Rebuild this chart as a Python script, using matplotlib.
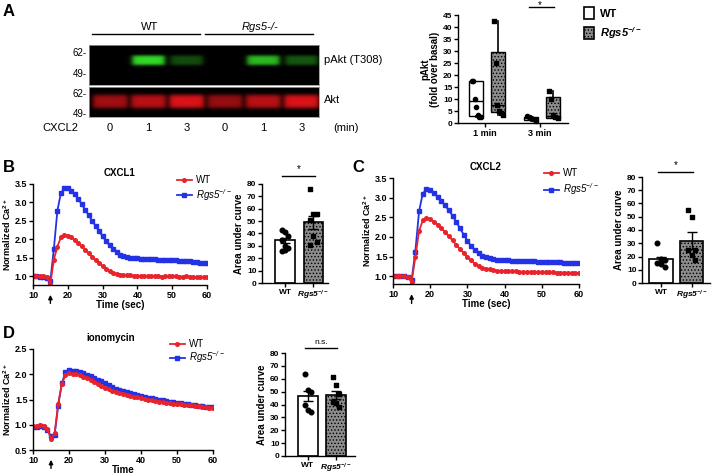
import numpy as np
import matplotlib
matplotlib.use("Agg")
import matplotlib.pyplot as plt
from matplotlib.patches import Patch

plt.rcParams["font.family"] = ["Liberation Sans", "DejaVu Sans"]
plt.rcParams["font.weight"] = "bold"
plt.rcParams["axes.labelweight"] = "bold"
plt.rcParams["mathtext.default"] = "regular"
plt.rcParams["hatch.linewidth"] = 0.6

W, H = 713, 474
RED = "#e8232b"
BLUE = "#2432e6"
GRAY = "#8c8c8c"

# ---- data ----
lane_labels = ["0", "1", "3", "0", "1", "3"]
pakt_signal = [0.0, 1.0, 0.35, 0.0, 0.85, 0.4]
akt_signal = [0.7, 0.8, 0.95, 0.65, 0.8, 0.95]

box_groups = ["1 min", "3 min"]
# min, q1, median, q3, max
wt_box = [(2.5, 3.0, 9.0, 17.5, 17.5), (1.0, 1.2, 2.0, 2.5, 3.0)]
rgs_box = [(3.5, 4.5, 7.7, 29.5, 42.5), (2.0, 2.2, 3.0, 11.0, 13.5)]
wt_box_pts = [[17.5, 17.5, 10.0, 6.5, 3.5, 2.5, 2.5], [3.0, 2.5, 2.0, 1.5, 1.0]]
rgs_box_pts = [[42.5, 25.0, 7.5, 5.0, 4.0, 3.5], [13.5, 10.0, 3.5, 2.5, 2.0]]

time = list(range(10, 61))

cxcl1_wt = [1.00, 1.00, 1.00, 1.00, 0.98, 0.80, 1.45, 1.80, 2.05, 2.12,
            2.10, 2.05, 1.98, 1.90, 1.81, 1.72, 1.62, 1.53, 1.44, 1.35,
            1.27, 1.20, 1.14, 1.09, 1.06, 1.04, 1.03, 1.02, 1.02, 1.01,
            1.01, 1.00, 1.01, 1.00, 1.00, 1.01, 1.00, 0.99, 1.00, 1.00,
            1.00, 1.00, 0.99, 0.99, 1.00, 0.99, 0.98, 0.98, 0.98, 0.98, 0.97]
cxcl1_rgs = [1.00, 1.00, 0.99, 0.99, 0.96, 0.88, 1.75, 2.77, 3.25, 3.38,
             3.38, 3.32, 3.22, 3.10, 2.95, 2.80, 2.65, 2.50, 2.36, 2.22,
             2.08, 1.95, 1.84, 1.74, 1.65, 1.58, 1.54, 1.51, 1.50, 1.49,
             1.48, 1.47, 1.47, 1.47, 1.46, 1.46, 1.45, 1.45, 1.44, 1.44,
             1.44, 1.43, 1.42, 1.41, 1.40, 1.40, 1.39, 1.38, 1.37, 1.36, 1.36]

cxcl2_wt = [1.00, 1.00, 1.00, 1.00, 0.99, 0.85, 1.48, 2.15, 2.42, 2.48,
            2.45, 2.39, 2.31, 2.22, 2.12, 2.02, 1.91, 1.80, 1.69, 1.59,
            1.49, 1.40, 1.32, 1.26, 1.22, 1.19, 1.17, 1.15, 1.14, 1.13,
            1.13, 1.12, 1.12, 1.12, 1.11, 1.11, 1.11, 1.11, 1.11, 1.10,
            1.10, 1.10, 1.10, 1.10, 1.09, 1.09, 1.09, 1.09, 1.08, 1.08, 1.08]
cxcl2_rgs = [1.00, 1.00, 1.00, 1.00, 0.99, 0.90, 1.62, 2.65, 3.10, 3.22,
             3.20, 3.12, 3.02, 2.92, 2.80, 2.68, 2.54, 2.38, 2.22, 2.06,
             1.90, 1.77, 1.66, 1.58, 1.52, 1.48, 1.45, 1.43, 1.42, 1.41,
             1.40, 1.40, 1.39, 1.39, 1.39, 1.38, 1.38, 1.38, 1.38, 1.37,
             1.37, 1.37, 1.36, 1.36, 1.35, 1.35, 1.34, 1.34, 1.33, 1.33, 1.33]

iono_wt = [0.98, 0.98, 0.99, 0.98, 0.92, 0.72, 0.83, 1.42, 1.80, 1.98,
           2.02, 2.01, 2.00, 1.98, 1.95, 1.92, 1.88, 1.84, 1.80, 1.77,
           1.73, 1.70, 1.67, 1.65, 1.63, 1.61, 1.59, 1.57, 1.55, 1.54,
           1.53, 1.51, 1.50, 1.49, 1.47, 1.46, 1.45, 1.44, 1.43, 1.42,
           1.41, 1.41, 1.40, 1.39, 1.39, 1.38, 1.37, 1.36, 1.35, 1.34, 1.33]
iono_rgs = [0.96, 0.96, 0.97, 0.96, 0.89, 0.78, 0.80, 1.38, 1.82, 2.04,
            2.08, 2.07, 2.06, 2.05, 2.03, 1.99, 1.96, 1.92, 1.89, 1.86,
            1.82, 1.78, 1.74, 1.71, 1.68, 1.66, 1.65, 1.63, 1.61, 1.59,
            1.57, 1.55, 1.53, 1.52, 1.51, 1.50, 1.49, 1.47, 1.46, 1.45,
            1.44, 1.43, 1.42, 1.41, 1.40, 1.39, 1.38, 1.37, 1.36, 1.36, 1.35]

# area under curve: mean, sem, points
auc_groups = ["WT", "Rgs5$^{-/-}$"]
cxcl1_mean = [34.5, 49.0]
cxcl1_sem = [2.0, 5.5]
cxcl1_wt_pts = [43, 41, 38, 35, 30, 28, 26, 27]
cxcl1_rgs_pts = [76, 56, 56, 51, 38, 33, 31]
cxcl2_mean = [18.0, 32.0]
cxcl2_sem = [2.0, 6.5]
cxcl2_wt_pts = [30, 18, 17, 15, 14, 12]
cxcl2_rgs_pts = [55, 50, 25, 25, 21, 17]
iono_mean = [46.8, 47.4]
iono_sem = [4.0, 3.2]
iono_wt_pts = [64, 51, 50, 40, 36, 34]
iono_rgs_pts = [61, 55, 48, 42, 41, 38]


def px(l, t, r, b):
    return [l / W, 1 - b / H, (r - l) / W, (b - t) / H]


def prism(ax, size=6.5):
    for s in ["top", "right"]:
        ax.spines[s].set_visible(False)
    for s in ["left", "bottom"]:
        ax.spines[s].set_linewidth(1.0)
    ax.tick_params(width=1.0, length=3, labelsize=size, pad=1)


fig = plt.figure(figsize=(W / 100, H / 100), dpi=100)

# ---- A: western blot ----
def band_image(signal, color, yc, hh, halfw):
    xs = np.linspace(0, 6, 460)
    ys = np.linspace(0, 1, 80)
    X, Y = np.meshgrid(xs, ys)
    img = np.zeros(X.shape)
    for i, s in enumerate(signal):
        fx = 1 / (1 + np.exp((np.abs(X - (i + 0.55)) - halfw) / 0.04))
        fy = np.exp(-((Y - yc) / hh) ** 4)
        img += s * fx * fy
    return np.clip(img, 0, 1)[..., None] * np.array(color)


ax_top = fig.add_axes(px(89, 45, 319, 85))
ax_top.imshow(band_image(pakt_signal, (0.2, 0.85, 0.15), 0.62, 0.13, 0.42),
              extent=(0, 6, 0, 1), origin="lower", aspect="auto")
ax_bot = fig.add_axes(px(89, 87, 319, 117))
ax_bot.imshow(band_image(akt_signal, (0.9, 0.08, 0.1), 0.52, 0.24, 0.45),
              extent=(0, 6, 0, 1), origin="lower", aspect="auto")
for a in (ax_top, ax_bot):
    a.set_xticks([])
    a.set_yticks([])
    for s in a.spines.values():
        s.set_color("#999999")
        s.set_linewidth(0.6)
for i, lab in enumerate(lane_labels):
    ax_bot.text(i + 0.55, -0.38, lab, ha="center", va="center", fontsize=8,
                fontweight="normal", transform=ax_bot.get_xaxis_transform())

blot_txt = dict(fontsize=8, fontweight="normal")
fig.text(78 / W, 1 - 128 / H, "CXCL2", ha="right", va="center", **blot_txt)
fig.text(333 / W, 1 - 128 / H, "(min)", ha="left", va="center", **blot_txt)
fig.text(324 / W, 1 - 60 / H, "pAkt (T308)", ha="left", va="center", **blot_txt)
fig.text(324 / W, 1 - 100 / H, "Akt", ha="left", va="center", **blot_txt)
for y, t in [(53, "62-"), (74, "49-"), (94, "62-"), (114, "49-")]:
    fig.text(87 / W, 1 - y / H, t, ha="right", va="center", fontsize=7, fontweight="normal")
fig.text(150 / W, 1 - 27 / H, "WT", ha="center", va="center", **blot_txt)
fig.text(260 / W, 1 - 27 / H, "Rgs5-/-", ha="center", va="center", style="italic", **blot_txt)
fig.add_artist(plt.Line2D([92 / W, 200 / W], [1 - 34 / H] * 2, color="black", lw=1))
fig.add_artist(plt.Line2D([205 / W, 313 / W], [1 - 34 / H] * 2, color="black", lw=1))

# ---- A: box plot ----
axA = fig.add_axes(px(458, 15, 568, 123))
prism(axA, 6)
offsets = [-0.16, 0.24]
for k, (boxes, pts, face, mk) in enumerate([(wt_box, wt_box_pts, "white", "o"),
                                            (rgs_box, rgs_box_pts, GRAY, "s")]):
    stats = [dict(whislo=b[0], q1=b[1], med=b[2], q3=b[3], whishi=b[4], fliers=[])
             for b in boxes]
    pos = [g + offsets[k] for g in range(len(box_groups))]
    axA.bxp(stats, positions=pos, widths=0.26, patch_artist=True, showcaps=False,
            boxprops=dict(facecolor=face, edgecolor="black", lw=1,
                          hatch="....." if k else None),
            medianprops=dict(color="black", lw=1),
            whiskerprops=dict(color="black", lw=1.2))
    for p, vals in zip(pos, pts):
        jit = np.linspace(-0.08, 0.08, len(vals))
        axA.scatter(p + jit, vals, s=9, marker=mk, color="black", zorder=5, clip_on=False)
axA.set_xlim(-0.49, 1.51)
axA.set_ylim(0, 45)
axA.set_yticks(range(0, 46, 5))
axA.set_xticks(range(len(box_groups)))
axA.set_xticklabels(box_groups, fontsize=6.5)
axA.set_ylabel("pAkt\n(fold over basal)", fontsize=7, labelpad=2, linespacing=1.0)
axA.plot([0.8, 1.25], [48.5, 48.5], color="black", lw=1, clip_on=False)
fig.text(540 / W, 1 - 0.5 / H, "*", ha="center", va="top", fontsize=7, fontweight="normal")

fig.legend(handles=[Patch(facecolor="white", edgecolor="black", lw=1.2),
                    Patch(facecolor=GRAY, edgecolor="black", lw=1.2, hatch=".....")],
           labels=["WT", "Rgs5$^{-/-}$"], loc="upper left",
           bbox_to_anchor=(584 / W, 1 - 7 / H), frameon=False, fontsize=8,
           handlelength=0.9, handleheight=1.3, handletextpad=0.5, labelspacing=0.55,
           borderpad=0, borderaxespad=0)
leg = fig.legends[-1]
leg.get_texts()[1].set_style("italic")


# ---- line panels ----
def line_panel(rect, wt, rgs, ylim, yticks, title, title_x, xlabel, anchor, spacing):
    ax = fig.add_axes(px(*rect))
    prism(ax, 6.5)
    l2, = ax.plot(time, rgs, color=BLUE, marker="s", ms=2.6, lw=1.3)
    l1, = ax.plot(time, wt, color=RED, marker="o", ms=2.6, lw=1.3)
    ax.set_xlim(10, 60)
    ax.set_ylim(*ylim)
    ax.set_xticks(range(10, 61, 10))
    ax.set_yticks(yticks)
    ax.set_yticklabels([f"{v:.1f}" for v in yticks])
    ax.set_xlabel(xlabel, fontsize=7, labelpad=0)
    ax.set_ylabel("Normalized Ca$^{2+}$", fontsize=6.5, labelpad=1)
    ax.text(title_x, 1.06, title, transform=ax.transAxes, ha="center", va="bottom", fontsize=7)
    ax.annotate("", xy=(15, -0.07), xycoords=("data", "axes fraction"),
                xytext=(15, -0.21), textcoords=("data", "axes fraction"),
                arrowprops=dict(arrowstyle="-|>", color="black", lw=1, mutation_scale=6),
                annotation_clip=False)
    leg = ax.legend([l1, l2], ["WT", "Rgs5$^{-/-}$"], loc="upper left",
                    bbox_to_anchor=(anchor[0] / W, 1 - anchor[1] / H),
                    bbox_transform=fig.transFigure, frameon=False, fontsize=7,
                    handlelength=1.5, handletextpad=0.5, labelspacing=spacing,
                    borderpad=0, borderaxespad=0)
    for t in leg.get_texts():
        t.set_fontweight("normal")
    leg.get_texts()[1].set_style("italic")
    return ax


line_panel((33, 184, 207, 285), cxcl1_wt, cxcl1_rgs, (0.76, 3.5),
           [1.0, 1.5, 2.0, 2.5, 3.0, 3.5], "CXCL1", 0.5, "Time (sec)", (177, 175), 0.2)
line_panel((393, 178, 579, 284), cxcl2_wt, cxcl2_rgs, (0.8, 3.5),
           [1.0, 1.5, 2.0, 2.5, 3.0, 3.5], "CXCL2", 0.5, "Time (sec)", (544, 168), 0.35)
line_panel((33, 349, 213, 450), iono_wt, iono_rgs, (0.5, 2.5),
           [0.5, 1.0, 1.5, 2.0, 2.5], "ionomycin", 0.43, "Time", (170, 339), 0.05)


# ---- bar panels ----
def bar_panel(rect, means, sems, wt_pts, rgs_pts, xlim, width, sig_y, sig_text):
    ax = fig.add_axes(px(*rect))
    prism(ax, 6)
    x = np.arange(len(auc_groups))
    ax.bar(x, means, width=width, color=["white", GRAY], edgecolor="black", lw=1.2,
           hatch=[None, "....."], zorder=2)
    ax.errorbar(x, means, yerr=sems, fmt="none", ecolor="black", elinewidth=1,
                capsize=3.5, capthick=1, zorder=3)
    for xi, vals, mk in [(0, wt_pts, "o"), (1, rgs_pts, "s")]:
        jit = np.tile([-0.12, 0.0, 0.12], 3)[:len(vals)]
        ax.scatter(xi + jit, vals, s=11, marker=mk, color="black", zorder=4)
    ax.set_xlim(*xlim)
    ax.set_ylim(0, 80)
    ax.set_yticks(range(0, 81, 10))
    ax.set_xticks(x)
    ax.set_xticklabels(auc_groups, fontsize=6)
    ax.get_xticklabels()[1].set_style("italic")
    ax.set_ylabel("Area under curve", fontsize=7, labelpad=2)
    ax.plot([-0.1, 1.05], [sig_y, sig_y], color="black", lw=1, clip_on=False)
    ax.text(0.47, sig_y + 1.5, sig_text, ha="center", va="bottom",
            fontsize=7 if sig_text == "*" else 6, fontweight="normal", clip_on=False)
    return ax


bar_panel((262, 184, 328, 283), cxcl1_mean, cxcl1_sem, cxcl1_wt_pts, cxcl1_rgs_pts,
          (-0.81, 1.51), 0.7, 86.5, "*")
bar_panel((642, 177, 710, 283), cxcl2_mean, cxcl2_sem, cxcl2_wt_pts, cxcl2_rgs_pts,
          (-0.62, 1.6), 0.77, 84, "*")
bar_panel((285, 353, 355, 456), iono_mean, iono_sem, iono_wt_pts, iono_rgs_pts,
          (-0.82, 1.68), 0.71, 84, "n.s.")

# panel letters
for x, y, t in [(3, 12, "A"), (3, 167, "B"), (352, 167, "C"), (3, 333, "D")]:
    fig.text(x / W, 1 - y / H, t, fontsize=12, fontweight="bold", va="center", ha="left")

fig.savefig("out.png", dpi=100)
